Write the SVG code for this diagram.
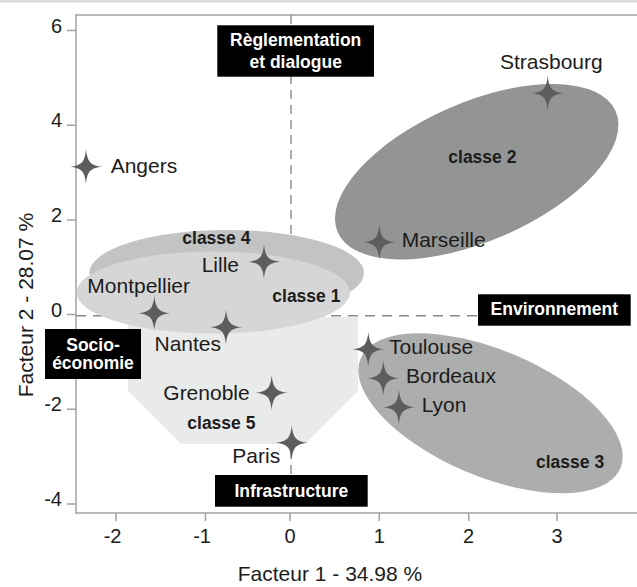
<svg xmlns="http://www.w3.org/2000/svg" width="637" height="587" viewBox="0 0 637 587">
<style>
text{font-family:"Liberation Sans",Arial,sans-serif;fill:#1c1c1c}
.lbl{font-size:21px}
.tick{font-size:20px}
.cls{font-size:17.5px;font-weight:bold}
.box{fill:#000}
.bt{font-size:17.5px;font-weight:bold;fill:#fff;text-anchor:middle}
.ax{stroke:#a3a3a3;stroke-width:1.5;fill:none}
.dash{stroke:#8a8a8a;stroke-width:1.4;fill:none}
.star{fill:#5c5e5e}
</style>
<defs>
<path id="star" d="M0,-17.5 C1.2,-5 4.5,-1.2 16,0 C4.5,1.2 1.2,4.5 0,17.5 C-1.2,4.5 -4.5,1.2 -16,0 C-4.5,-1.2 -1.2,-4.5 0,-17.5 Z"/>
</defs>
<rect x="0" y="0" width="637" height="2.5" fill="#d9d9d9"/>
<g id="axes">
<path class="ax" d="M637,15 H76 V513 H637"/>
<path class="ax" d="M67,30.5 H76 M67,125.2 H76 M67,219.9 H76 M67,314.6 H76 M67,409.3 H76 M67,504 H76"/>
<path class="ax" d="M116,513 V521 M205.5,513 V521 M290,513 V521 M379.3,513 V521 M468.7,513 V521 M557,513 V521"/>
<g class="tick" text-anchor="end">
<text x="62" y="32.5">6</text>
<text x="62" y="127.2">4</text>
<text x="62" y="221.9">2</text>
<text x="62" y="316.6">0</text>
<text x="62" y="411.3">-2</text>
<text x="62" y="506">-4</text>
</g>
<g class="tick" text-anchor="end">
<text x="121.5" y="543.3">-2</text>
<text x="211" y="543.3">-1</text>
<text x="295.5" y="543.3">0</text>
<text x="384.8" y="543.3">1</text>
<text x="474.2" y="543.3">2</text>
<text x="562.5" y="543.3">3</text>
</g>
<text class="lbl" x="330" y="581" text-anchor="middle">Facteur 1 - 34.98 %</text>
<text class="lbl" transform="translate(33,305) rotate(-90)" text-anchor="middle">Facteur 2 - 28.07 %</text>
</g>
<g id="connectors">
<path class="dash" d="M291,15 V475" stroke-dasharray="9 6"/>
<path class="dash" d="M76,315.8 H637" stroke-dasharray="10 7"/>
</g>
<g id="classe5">
<polygon points="128,317 358,317 358,391 305,444 181,444 128,391" fill="#e9eaea"/>
</g>
<g id="classe4">
<ellipse cx="226.7" cy="273" rx="137.3" ry="43" fill="#c2c3c3"/>
</g>
<g id="classe1">
<ellipse cx="213.3" cy="292.5" rx="136.7" ry="41" fill="#d6d6d6"/>
</g>
<g id="classe2">
<ellipse cx="476.7" cy="171.7" rx="151.6" ry="69.3" transform="rotate(-23.5 476.7 171.7)" fill="#939494"/>
</g>
<g id="classe3">
<ellipse cx="490.5" cy="413.3" rx="141" ry="63.2" transform="rotate(22.9 490.5 413.3)" fill="#acadad"/>
</g>
<g id="class-labels" class="cls">
<text x="448.3" y="163.3">classe 2</text>
<text x="182.3" y="244.3">classe 4</text>
<text x="272.3" y="301.7">classe 1</text>
<text x="187.3" y="429.3">classe 5</text>
<text x="536" y="467.7">classe 3</text>
</g>
<g id="angers"><use href="#star" class="star" x="86" y="166.7"/><text class="lbl" x="110.7" y="173">Angers</text></g>
<g id="strasbourg"><use href="#star" class="star" x="547.7" y="93.3"/><text class="lbl" x="500" y="69.3">Strasbourg</text></g>
<g id="marseille"><use href="#star" class="star" x="379.3" y="242.3"/><text class="lbl" x="401.7" y="247">Marseille</text></g>
<g id="lille"><use href="#star" class="star" x="264" y="261.7"/><text class="lbl" x="201.7" y="272.3">Lille</text></g>
<g id="montpellier"><use href="#star" class="star" x="154.3" y="313.3"/><text class="lbl" x="87.3" y="292.5">Montpellier</text></g>
<g id="nantes"><use href="#star" class="star" x="226" y="327.3"/><text class="lbl" x="154.5" y="350.7">Nantes</text></g>
<g id="grenoble"><use href="#star" class="star" x="271.7" y="392.7"/><text class="lbl" x="163.3" y="400">Grenoble</text></g>
<g id="paris"><use href="#star" class="star" x="291.7" y="442.7"/><text class="lbl" x="232.3" y="463.3">Paris</text></g>
<g id="toulouse"><use href="#star" class="star" x="368.3" y="349.3"/><text class="lbl" x="389" y="353.5">Toulouse</text></g>
<g id="bordeaux"><use href="#star" class="star" x="383.3" y="378.3"/><text class="lbl" x="406" y="383.3">Bordeaux</text></g>
<g id="lyon"><use href="#star" class="star" x="399" y="407.3"/><text class="lbl" x="421.7" y="411.7">Lyon</text></g>
<g id="reglementation">
<rect class="box" x="217.3" y="25.3" width="156.7" height="51.4"/>
<text class="bt" x="295.7" y="46">Règlementation</text>
<text class="bt" x="295.7" y="68">et dialogue</text>
</g>
<g id="socio">
<rect class="box" x="45" y="329" width="96" height="50"/>
<text class="bt" x="93" y="351">Socio-</text>
<text class="bt" x="93" y="369.3">économie</text>
</g>
<g id="environnement">
<rect class="box" x="478" y="294.3" width="152.7" height="31.4"/>
<text class="bt" x="554.3" y="315">Environnement</text>
</g>
<g id="infrastructure">
<rect class="box" x="215" y="475" width="152.7" height="31.7"/>
<text class="bt" x="291.3" y="496.7">Infrastructure</text>
</g>
</svg>
